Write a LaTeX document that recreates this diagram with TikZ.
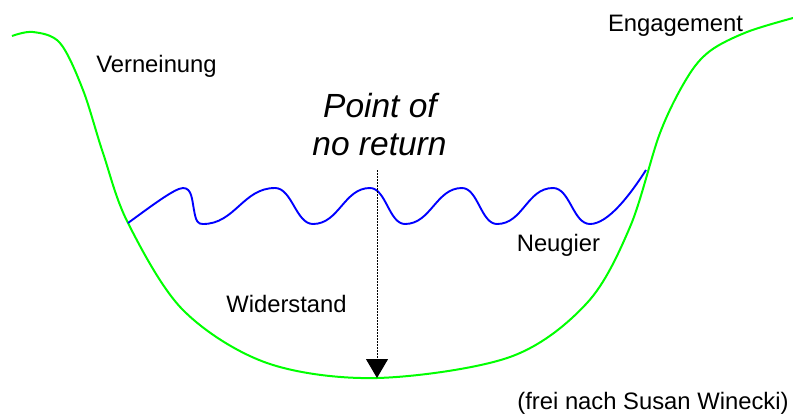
\documentclass[tikz,border=0pt]{standalone}
\usepackage{fontspec}
\setmainfont{Liberation Sans}
\usetikzlibrary{arrows.meta}
\definecolor{curvegreen}{RGB}{0,255,0}
\definecolor{curveblue}{RGB}{0,0,255}
\tikzset{
  lbl/.style={anchor=base,inner sep=0pt,font=\fontsize{23.8}{28}\selectfont},
  biglbl/.style={anchor=base,inner sep=0pt,font=\fontsize{33.5}{38}\selectfont\itshape},
  greenline/.style={draw=curvegreen,line width=2pt},
  blueline/.style={draw=curveblue,line width=1.9pt},
  pointer/.style={draw=black,line width=1pt,dash pattern=on 1.5pt off 1.5pt,-{Triangle[width=22pt,length=19pt]}}
}
\begin{document}
\begin{tikzpicture}[x=1pt,y=-1pt]
\useasboundingbox (0,0) rectangle (793,416);
% junction points
\coordinate (jl) at (128,223);
\coordinate (jr) at (646,170);
\coordinate (top) at (377,170);
\coordinate (bottom) at (377,378);
% green curve
\draw[greenline] plot[smooth,tension=0.55] coordinates {(12,36) (33,32) (60,43) (83,90) (103,153) (128,223) (183,310) (267,363) (377,378) (510,357) (587,303) (630,227) (660,133) (687,78) (710,51) (747,32) (793,18)};
% blue curve
\draw[blueline] (jl) .. controls (150,207) and (175,188) .. (183,188)
  .. controls (192,188) and (192,200) .. (194,210)
  .. controls (196,222) and (198,224) .. (203,224)
  .. controls (235,224) and (243,188) .. (275,188)
  .. controls (292,188) and (296,224) .. (313,224)
  .. controls (339,224) and (344,188) .. (370,188)
  .. controls (386,188) and (389,224) .. (405,224)
  .. controls (431,224) and (436,188) .. (462,188)
  .. controls (478,188) and (481,224) .. (497,224)
  .. controls (523,224) and (527,188) .. (553,188)
  .. controls (570,188) and (573,224) .. (590,224)
  .. controls (608,224) and (630,195) .. (jr);
% arrow
\draw[pointer] (top) -- (bottom);
% labels
\node[lbl] (verneinung) at (156.5,72) {Verneinung};
\node[lbl] (engagement) at (675.5,31) {Engagement};
\node[lbl] (neugier) at (558.5,251) {Neugier};
\node[lbl] (widerstand) at (286.5,312) {Widerstand};
\node[lbl] (quelle) at (653,409) {(frei nach Susan Winecki)};
\node[biglbl] (pon1) at (380,117) {Point of};
\node[biglbl] (pon2) at (379.5,155) {no return};
\end{tikzpicture}
\end{document}
